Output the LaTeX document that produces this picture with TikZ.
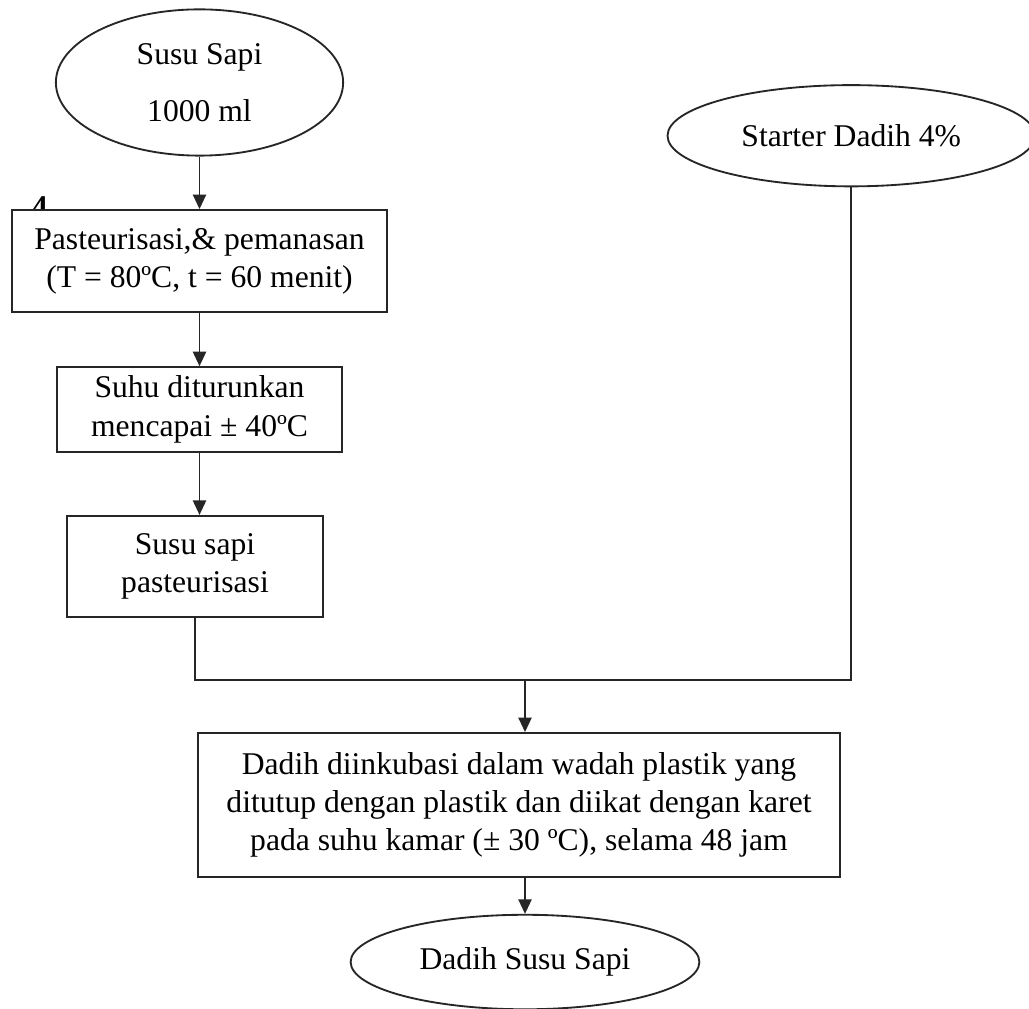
\documentclass[tikz,border=0pt]{standalone}
\usepackage{fontspec}
\setmainfont{Liberation Serif}
\usepackage{tikz}
\usetikzlibrary{shapes.geometric, arrows.meta, positioning}

\begin{document}
\begin{tikzpicture}[
    box/.style={rectangle, draw=black!85, line width=0.7pt, fill=white, align=center, font=\fontsize{12}{14.5}\selectfont, inner sep=2pt},
    oval/.style={ellipse, draw=black!85, line width=0.7pt, fill=white, align=center, font=\fontsize{12}{14.5}\selectfont, inner sep=0pt},
    arr/.style={-{Triangle[length=5.5pt, width=5pt]}, line width=0.7pt, draw=black!85},
    link/.style={line width=0.7pt, draw=black!85}
]
    \useasboundingbox[fill=white] (0,0) rectangle (13.72,-13.453);

    % Inputs
    \node[oval, minimum width=3.83cm, minimum height=1.95cm] (susu) at (2.66,-1.1) {Susu Sapi\\[7pt]1000 ml};
    \node[oval, minimum width=4.9cm, minimum height=1.35cm] (starter) at (11.35,-1.81) {Starter Dadih 4\%};

    % Left column
    \node[font=\bfseries\fontsize{12}{14}\selectfont] (stray) at (0.53,-2.76) {4};
    \node[box, minimum width=5.01cm, minimum height=1.36cm] (pasteur) at (2.66,-3.48) {Pasteurisasi,\& pemanasan\\(T = 80ºC, t = 60 menit)};
    \node[box, minimum width=3.81cm, minimum height=1.13cm] (suhu) at (2.66,-5.46) {Suhu diturunkan\\mencapai ± 40ºC};
    \node[box, minimum width=3.41cm, minimum height=1.35cm] (pasteurisasi) at (2.6,-7.553) {Susu sapi\\pasteurisasi};

    % Incubation and result
    \coordinate (join) at (7.0,-9.067);
    \node[box, minimum width=8.56cm, minimum height=1.92cm] (inkubasi) at (6.92,-10.733) {Dadih diinkubasi dalam wadah plastik yang\\ditutup dengan plastik dan diikat dengan karet\\pada suhu kamar (± 30 ºC), selama 48 jam};
    \node[oval, minimum width=4.65cm, minimum height=1.26cm] (dadih) at (7.0,-12.827) {Dadih Susu Sapi};

    % Arrows
    \draw[arr] (susu.south) -- (pasteur.north);
    \draw[arr] (pasteur.south) -- (suhu.north);
    \draw[arr] (suhu.south) -- (suhu.south |- pasteurisasi.north);
    \draw[link] (pasteurisasi.south) |- (join);
    \draw[link] (starter.south) |- (join);
    \draw[arr] (join) -- (join |- inkubasi.north);
    \draw[arr] (join |- inkubasi.south) -- (dadih.north);
\end{tikzpicture}
\end{document}
